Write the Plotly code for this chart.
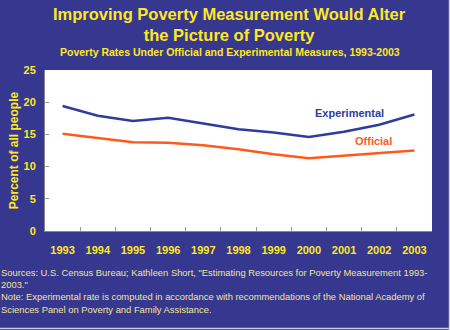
import plotly.graph_objects as go

years = ["1993", "1994", "1995", "1996", "1997", "1998", "1999", "2000", "2001", "2002", "2003"]
experimental = [19.4, 17.9, 17.1, 17.6, 16.7, 15.8, 15.3, 14.6, 15.4, 16.5, 18.1]
official = [15.1, 14.5, 13.8, 13.7, 13.3, 12.7, 11.9, 11.3, 11.7, 12.1, 12.5]
y_ticks = [0, 5, 10, 15, 20, 25]

BG = "#363890"
YELLOW = "#FFE81F"
BLUE = "#2D3C9E"
ORANGE = "#FF5A1C"
FONT = "Liberation Sans, Arial, sans-serif"

fig = go.Figure()
fig.add_trace(go.Scatter(x=years, y=experimental, mode="lines",
                         line=dict(color=BLUE, width=2.5), name="Experimental"))
fig.add_trace(go.Scatter(x=years, y=official, mode="lines",
                         line=dict(color=ORANGE, width=2.5), name="Official"))

fig.update_layout(
    width=450, height=330,
    margin=dict(l=45, r=18, t=70, b=99),
    paper_bgcolor=BG, plot_bgcolor="white",
    showlegend=False,
    font=dict(family=FONT, color=YELLOW),
)

fig.update_xaxes(
    type="category", range=[-0.5, 10.5],
    tickson="boundaries", ticks="inside", ticklen=4, tickcolor="#999999",
    showline=True, linecolor="#888888", linewidth=1,
    showgrid=False, tickfont=dict(family=FONT, size=11, color=YELLOW, weight="bold"),
    ticklabelstandoff=9,
)
fig.update_yaxes(
    range=[0, 25], tickvals=y_ticks, ticks="inside", ticklen=4, tickcolor="#999999",
    showline=True, linecolor="#888888", linewidth=1,
    showgrid=False, zeroline=False,
    tickfont=dict(family=FONT, size=11, color=YELLOW, weight="bold"),
    ticklabelstandoff=6,
    title=dict(text="<b>Percent of all people</b>", font=dict(family=FONT, size=12, color=YELLOW),
               standoff=2),
)

# Titles
fig.add_annotation(text="<b>Improving Poverty Measurement Would Alter<br>the Picture of Poverty</b>",
                   xref="paper", yref="paper", x=0.5, y=1, xanchor="center", yanchor="bottom",
                   xshift=-9, yshift=24, showarrow=False, align="center",
                   font=dict(family=FONT, size=16.5, color=YELLOW))
fig.add_annotation(text="<b>Poverty Rates Under Official and Experimental Measures, 1993-2003</b>",
                   xref="paper", yref="paper", x=0.5, y=1, xanchor="center", yanchor="bottom",
                   xshift=-9, yshift=10, showarrow=False,
                   font=dict(family=FONT, size=10.5, color=YELLOW))

# Series labels
fig.add_annotation(text="<b>Experimental</b>", x=8.16, y=18.3, xref="x", yref="y",
                   showarrow=False, font=dict(family=FONT, size=11, color=BLUE))
fig.add_annotation(text="<b>Official</b>", x=8.83, y=13.9, xref="x", yref="y",
                   showarrow=False, font=dict(family=FONT, size=11, color=ORANGE))

# Footnotes
notes = ("Sources: U.S. Census Bureau; Kathleen Short, \"Estimating Resources for Poverty Measurement 1993-<br>"
         "2003.\"<br>"
         "Note: Experimental rate is computed in accordance with recommendations of the National Academy of<br>"
         "Sciences Panel on Poverty and Family Assistance.")
fig.add_annotation(text=notes, xref="paper", yref="paper", x=0, y=0,
                   xanchor="left", yanchor="top", xshift=-46, yshift=-34,
                   showarrow=False, align="left",
                   font=dict(family=FONT, size=9.4, color="#EFE39A"))

# Light frame along the right and bottom edges
fig.add_shape(type="line", xref="paper", yref="paper",
              x0=1 + 17.5/387, x1=1 + 17.5/387, y0=-99/161, y1=1 + 70/161,
              line=dict(color="#C9C9E6", width=1.5))
fig.add_shape(type="line", xref="paper", yref="paper",
              x0=-45/387, x1=1 + 18/387, y0=-97.5/161, y1=-97.5/161,
              line=dict(color="#C9C9E6", width=1.5))

fig.write_html("out.html")
